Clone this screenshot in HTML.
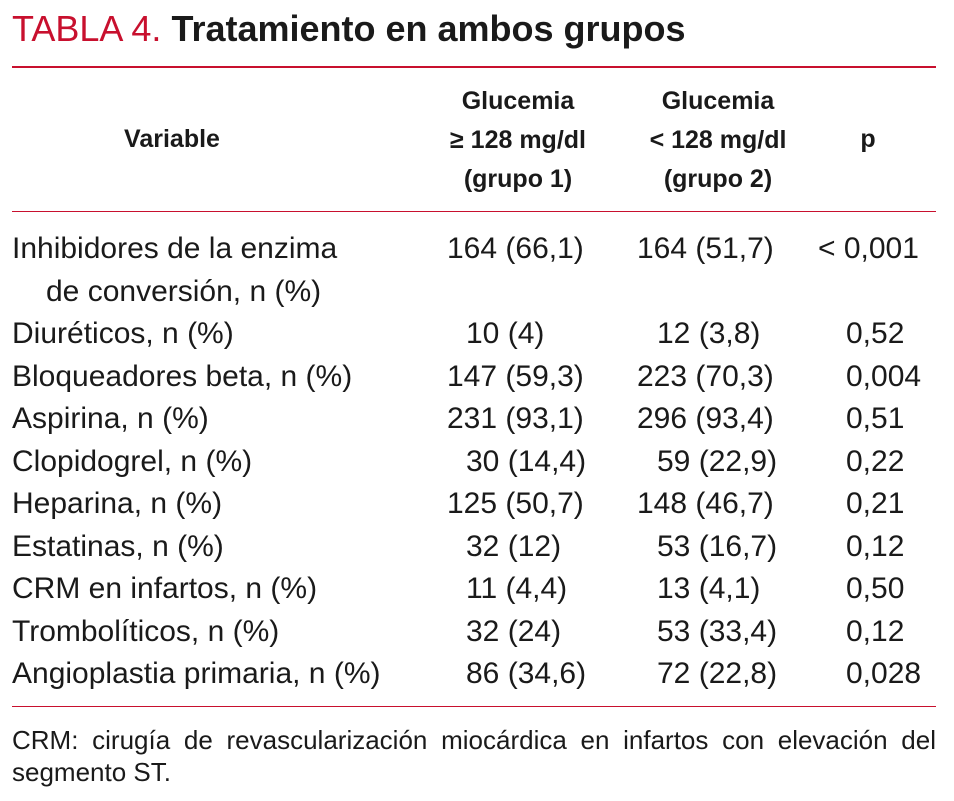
<!DOCTYPE html>
<html><head><meta charset="utf-8">
<style>
html,body{margin:0;padding:0;background:#fff;}
body{width:954px;height:801px;position:relative;overflow:hidden;font-family:"Liberation Sans Narrow","Liberation Sans",sans-serif;color:#1a1a1a;}
.a{position:absolute;white-space:nowrap;line-height:1;}
.rule{position:absolute;left:12px;width:924px;height:2px;background:#c8102e;}
.hl{position:absolute;left:12px;width:924px;height:1px;background:#c8102e;}
.h{font-weight:bold;font-size:25px;text-align:center;line-height:39px;}
.b{font-size:30px;}
</style></head><body>
<div class="a" style="left:12px;top:11px;font-size:36px;"><span style="color:#c8102e">TABLA 4.</span> <b>Tratamiento en ambos grupos</b></div>
<div class="rule" style="top:66px"></div>
<div class="a h" style="left:72px;width:200px;top:120px">Variable</div>
<div class="a h" style="left:418px;width:200px;top:82px">Glucemia<br>≥ 128 mg/dl<br>(grupo 1)</div>
<div class="a h" style="left:618px;width:200px;top:82px">Glucemia<br>&lt; 128 mg/dl<br>(grupo 2)</div>
<div class="a h" style="left:818px;width:100px;top:120px">p</div>
<div class="hl" style="top:211px"></div>
<div id="rows"></div>
<div class="hl" style="top:706px"></div>
<div class="a" style="left:12px;top:724px;width:924px;font-size:26px;line-height:32px;white-space:normal;text-align:justify;text-align-last:left;">CRM: cirugía de revascularización miocárdica en infartos con elevación del segmento ST.</div>
<script>
const labels=["Inhibidores de la enzima","Diuréticos, n (%)","Bloqueadores beta, n (%)","Aspirina, n (%)","Clopidogrel, n (%)","Heparina, n (%)","Estatinas, n (%)","CRM en infartos, n (%)","Trombolíticos, n (%)","Angioplastia primaria, n (%)"];
const g1=["164 (66,1)","10 (4)","147 (59,3)","231 (93,1)","30 (14,4)","125 (50,7)","32 (12)","11 (4,4)","32 (24)","86 (34,6)"];
const g2=["164 (51,7)","12 (3,8)","223 (70,3)","296 (93,4)","59 (22,9)","148 (46,7)","53 (16,7)","13 (4,1)","53 (33,4)","72 (22,8)"];
const pv=["< 0,001","0,52","0,004","0,51","0,22","0,21","0,12","0,50","0,12","0,028"];
const tops=[234,319,362,404,447,489,532,574,617,659];
const root=document.getElementById('rows');
function add(t,x,y,name){const d=document.createElement('div');d.className='a b';d.textContent=t;d.style.left=x+'px';d.style.top=y+'px';


root.appendChild(d);}
for(let i=0;i<labels.length;i++){
 const y=tops[i];
 add(labels[i],12,y,'row-label');
 add(g1[i],/^\d\d /.test(g1[i])?466:447,y,'group1-value');
 add(g2[i],/^\d\d /.test(g2[i])?657:637,y,'group2-value');
 add(pv[i],pv[i][0]=='<'?818:846,y,'p-value');
}
add("de conversión, n (%)",46,277,'row-label-continued');
</script>
</body></html>
